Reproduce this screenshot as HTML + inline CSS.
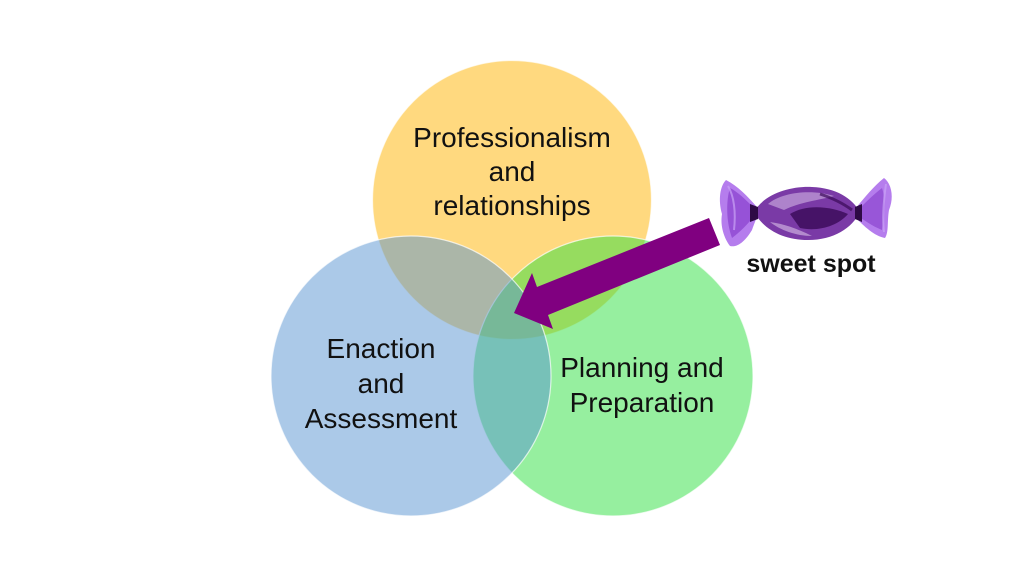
<!DOCTYPE html>
<html>
<head>
<meta charset="utf-8">
<style>
  html,body{margin:0;padding:0;background:#fff;}
  svg{display:block;}
  text{font-family:"Liberation Sans", Arial, sans-serif;fill:#111;}
</style>
</head>
<body>
<svg width="1024" height="576" viewBox="0 0 1024 576" xmlns="http://www.w3.org/2000/svg">
  <rect width="1024" height="576" fill="#fff"/>
  <!-- circles -->
  <circle cx="512" cy="200" r="139.5" fill="#FFB300" fill-opacity="0.5" stroke="#fff" stroke-opacity="0.7" stroke-width="1.2"/>
  <circle cx="613" cy="376" r="140" fill="#2DDF3F" fill-opacity="0.5" stroke="#fff" stroke-opacity="0.7" stroke-width="1.2"/>
  <circle cx="411" cy="376" r="140" fill="#5793D1" fill-opacity="0.5" stroke="#fff" stroke-opacity="0.7" stroke-width="1.2"/>

  <!-- labels -->
  <g font-size="28" text-anchor="middle">
    <text x="512" y="147">Professionalism</text>
    <text x="512" y="181">and</text>
    <text x="512" y="215">relationships</text>

    <text x="381" y="358">Enaction</text>
    <text x="381" y="393">and</text>
    <text x="381" y="428">Assessment</text>

    <text x="642" y="377">Planning and</text>
    <text x="642" y="412">Preparation</text>
  </g>

  <!-- arrow -->
  <polygon points="709,218 537,287 532,273 514,313 553,329 548,315 720,245" fill="#800080"/>

  <!-- candy -->
  <g>
    <!-- left wrapper -->
    <path d="M756,206 C748,197 738,186 726,180 C720,186 718,200 722,214 C720,226 724,238 730,246 C738,248 746,240 752,230 C754,224 756,220 757,216 Z" fill="#A25CE8" fill-opacity="0.8"/>
    <path d="M754,208 C746,200 738,192 730,188 C726,200 726,222 732,238 C740,232 748,224 754,216 Z" fill="#7B2FC4" fill-opacity="0.55"/>
    <path d="M728,186 C734,196 736,212 734,230" stroke="#C9A2F5" stroke-width="2" fill="none" stroke-opacity="0.7"/>
    <!-- right wrapper -->
    <path d="M856,208 C864,198 874,186 884,178 C892,184 894,198 889,210 C887,222 889,232 885,238 C874,236 864,226 856,218 Z" fill="#A25CE8" fill-opacity="0.8"/>
    <path d="M858,210 C866,202 874,194 882,188 C886,200 884,216 882,230 C872,226 864,220 858,216 Z" fill="#7B2FC4" fill-opacity="0.5"/>
    <path d="M886,184 C884,198 882,216 884,232" stroke="#C9A2F5" stroke-width="2" fill="none" stroke-opacity="0.7"/>
    <!-- body -->
    <path d="M754,212 C764,194 790,186 812,187 C836,188 852,198 860,212 C852,228 834,240 808,240 C784,240 764,230 754,212 Z" fill="#7A3AA6"/>
    <path d="M768,204 C782,192 812,189 834,196 C820,200 800,202 784,210 Z" fill="#C4A3DB" fill-opacity="0.7"/>
    <path d="M790,214 C806,204 830,206 848,214 C838,226 818,232 800,228 Z" fill="#3A0A58" fill-opacity="0.8"/>
    <path d="M770,222 C780,230 796,236 812,236 C796,228 784,224 770,222 Z" fill="#D8C0E8" fill-opacity="0.6"/>
    <path d="M820,194 C832,198 844,204 852,210" stroke="#3A0A58" stroke-width="3" fill="none" stroke-opacity="0.7"/>
    <!-- twists -->
    <path d="M750,204 L758,207 L758,219 L750,222 Z" fill="#2E0A45"/>
    <path d="M862,204 L855,207 L855,219 L862,222 Z" fill="#2E0A45"/>
  </g>

  <text x="811" y="272" font-size="25" font-weight="bold" text-anchor="middle">sweet spot</text>
</svg>
</body>
</html>
